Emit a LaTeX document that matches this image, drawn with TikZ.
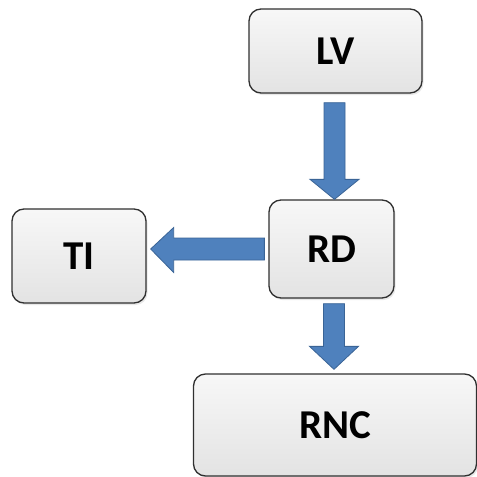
\documentclass[tikz,border=0pt]{standalone}
\usepackage{fontspec}
\setmainfont{Carlito}
\usetikzlibrary{calc,shadows}
\definecolor{arrowblue}{HTML}{4F81BD}
\definecolor{arrowedge}{HTML}{3A6496}
\definecolor{boxedge}{HTML}{303030}
\tikzset{
  boxnode/.style={draw=boxedge, line width=1.3pt, rounded corners=12pt,
    top color=gray!6, bottom color=gray!22, inner sep=0pt,
    font=\fontsize{41}{41}\selectfont\bfseries,
    drop shadow={opacity=0.18, shadow xshift=1.5pt, shadow yshift=-2pt}},
  blockarrow/.style={fill=arrowblue, draw=arrowedge, line width=0.8pt, line join=miter}
}
\begin{document}
\begin{tikzpicture}[x=1pt,y=-1pt]
\useasboundingbox[fill=white] (0,0) rectangle (477,477);
\node[boxnode, minimum width=173pt, minimum height=84pt] (LV) at (335.5,51) {LV};
\node[boxnode, minimum width=125pt, minimum height=98pt] (RD) at (331.5,249) {RD};
\node[boxnode, minimum width=134pt, minimum height=94pt] (TI) at (79,256) {TI};
\node[boxnode, minimum width=283pt, minimum height=102pt] (RNC) at (335,425) {RNC};
% LV -> RD
\path[blockarrow] let \p1=(LV.south), \p2=(RD.north) in
  (\x1-11.5pt,\y1-9pt) -- (\x1+9.5pt,\y1-9pt) -- (\x1+9.5pt,\y2+20pt) -- (\x1+23.5pt,\y2+20pt)
  -- (\x1-1pt,\y2) -- (\x1-25.5pt,\y2+20pt) -- (\x1-11.5pt,\y2+20pt) -- cycle;
% RD -> RNC
\path[blockarrow] let \p1=(RD.south), \p2=(RNC.north) in
  (\x1-8pt,\y1-5pt) -- (\x1+13pt,\y1-5pt) -- (\x1+13pt,\y2+27pt) -- (\x1+27pt,\y2+27pt)
  -- (\x1+2.5pt,\y2+4pt) -- (\x1-22pt,\y2+27pt) -- (\x1-8pt,\y2+27pt) -- cycle;
% RD -> TI
\path[blockarrow] let \p1=(RD.west), \p2=(TI.east) in
  (\x1-4pt,\y1+11pt) -- (\x1-4pt,\y1-11pt) -- (\x2+27pt,\y1-11pt) -- (\x2+27pt,\y1-23.5pt)
  -- (\x2+4pt,\y1) -- (\x2+27pt,\y1+21.5pt) -- (\x2+27pt,\y1+11pt) -- cycle;
\end{tikzpicture}
\end{document}
